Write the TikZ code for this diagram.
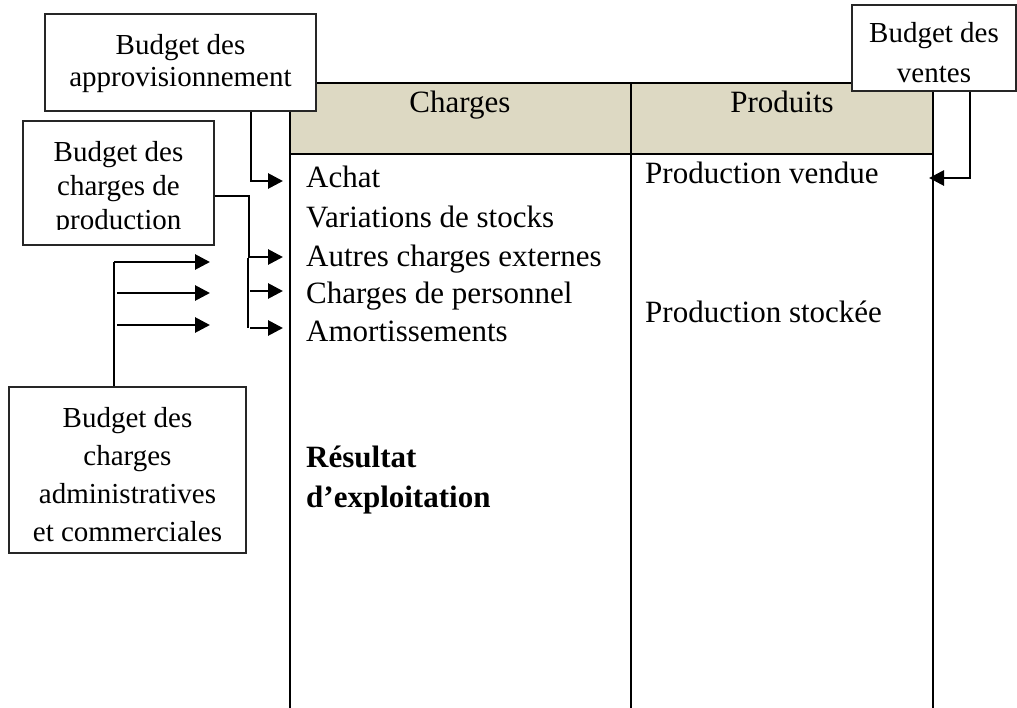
\documentclass[tikz,border=0pt]{standalone}
\usepackage{fontspec}
\setmainfont{Liberation Serif}
\usetikzlibrary{arrows.meta}
\definecolor{hdrfill}{HTML}{DDD9C3}
\begin{document}
\begin{tikzpicture}[x=1pt,y=-1pt,
  tline/.style={line width=2.4pt},
  bbox/.style={draw=black!85, line width=1.5pt, fill=white, inner sep=0pt, align=center},
  btext/.style={inner sep=0pt, align=center},
  arr/.style={line width=2.8pt, -{Triangle[length=15pt,width=15pt]}},
  plainline/.style={line width=2.4pt},
  thinl/.style={line width=1.5pt},
  ctext/.style={inner sep=0pt, anchor=base west, font=\fontsize{31}{36}\selectfont},
  htext/.style={inner sep=0pt, anchor=base, font=\fontsize{31}{36}\selectfont}]
\useasboundingbox (0,0) rectangle (1017,707);
\fill[white] (0,0) rectangle (1017,707);

% table
\fill[hdrfill] (290,83) rectangle (933,154);
\draw[tline] (290,83) -- (933,83);
\draw[tline] (290,154) -- (933,154);
\draw[tline] (290,83) -- (290,708);
\draw[tline] (631,83) -- (631,708);
\draw[tline] (933,83) -- (933,708);

\node[htext] (hCharges) at (460,112) {Charges};
\node[htext] (hProduits) at (782,112) {Produits};

\node[ctext] (achat) at (306,187) {Achat};
\node[ctext] (variations) at (306,227) {Variations de stocks};
\node[ctext] (autres) at (306,266) {Autres charges externes};
\node[ctext] (personnel) at (306,303) {Charges de personnel};
\node[ctext] (amort) at (306,341) {Amortissements};
\node[ctext, font=\fontsize{31}{36}\selectfont\bfseries] (res1) at (306,467) {Résultat};
\node[ctext, font=\fontsize{31}{36}\selectfont\bfseries] (res2) at (306,507) {d’exploitation};
\node[ctext] (pvendue) at (645,183) {Production vendue};
\node[ctext] (pstock) at (645,322) {Production stockée};

% boxes
\node[bbox, minimum width=271pt, minimum height=97pt] (approv) at (180.5,62.5) {};
\node[btext, font=\fontsize{29}{32}\selectfont] (approvT) at (180.5,64) {Budget des\\approvisionnement};
\node[bbox, minimum width=164pt, minimum height=86pt] (ventes) at (934,48) {};
\node[btext, font=\fontsize{29}{40}\selectfont] (ventesT) at (934,53) {Budget des\\ventes};
\node[bbox, minimum width=191pt, minimum height=124pt] (cprod) at (118.5,183) {};
\begin{scope}
  \clip (23,121) rectangle (214,229);
  \node[btext, font=\fontsize{29}{34}\selectfont] (cprodT) at (118.5,189) {Budget des\\charges de\\production};
\end{scope}
\node[bbox, minimum width=237pt, minimum height=166pt] (admin) at (127.5,470) {};
\node[btext, font=\fontsize{29}{38}\selectfont] (adminT) at (127.5,475) {Budget des\\charges\\administratives\\et commerciales};

% connectors
\coordinate (tAchat) at (283,181);
\draw[arr] ([xshift=70.5pt]approv.south) |- (tAchat);

\coordinate (jA) at (249,257);
\coordinate (tAutres) at (283,257);
\coordinate (jB) at (248,258);
\coordinate (jC) at (248,328);
\coordinate (sB) at (250,291);
\coordinate (tCharges) at (283,291);
\coordinate (sC) at (250,328);
\coordinate (tAmort) at (283,328);
\draw[arr] ([yshift=-13pt]cprod.east) -| (jA) -- (tAutres);
\draw[thinl] (jB) -- (jC);
\draw[arr] (sB) -- (tCharges);
\draw[arr] (sC) -- (tAmort);

\coordinate (lTop) at (114,262);
\coordinate (l1) at (210,262);
\coordinate (s2) at (117,293);
\coordinate (l2) at (210,293);
\coordinate (s3) at (117,325);
\coordinate (l3) at (210,325);
\draw[plainline] ([xshift=-13.5pt]admin.north) -- (lTop);
\draw[arr] (lTop) -- (l1);
\draw[arr] (s2) -- (l2);
\draw[arr] (s3) -- (l3);

\coordinate (tVend) at (929,178);
\draw[arr] ([xshift=36pt]ventes.south) |- (tVend);
\end{tikzpicture}
\end{document}
